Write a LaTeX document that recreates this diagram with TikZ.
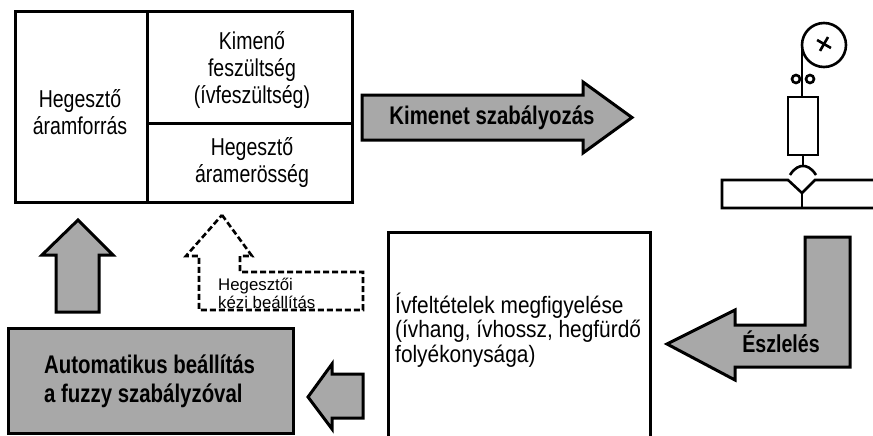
\documentclass[tikz,border=0pt]{standalone}
\usepackage{fontspec}
\setmainfont{Liberation Sans}[FakeStretch=0.8]
\newfontfamily\widefont{Liberation Sans}[FakeStretch=0.88]
\newfontfamily\plainfont{Liberation Sans}
\usepackage{xcolor}
\usetikzlibrary{positioning}
\definecolor{arrowgray}{RGB}{168,168,168}

\begin{document}
\begin{tikzpicture}[
    x=1pt, y=-1pt,
    frame/.style={draw, line width=3pt},
    blockarrow/.style={draw, line width=3pt, fill=arrowgray},
    handarrow/.style={draw, line width=2.6pt, dash pattern=on 6pt off 3pt},
    torch/.style={draw, line width=2.6pt},
    label/.style={inner sep=0pt, align=center, font=\fontsize{24.4}{27}\selectfont},
    boldlabel/.style={inner sep=0pt, font=\fontsize{25.5}{29}\selectfont\bfseries}
]
    \useasboundingbox (0,0) rectangle (873,436);

    % Power source block
    \draw[frame] (15,12) rectangle (352,202);
    \draw[frame] (147,12) -- (147,202);
    \draw[frame] (147,123) -- (352,123);
    \node[label, anchor=base] (source) at (80,134) {Hegesztő\\áramforrás};
    \node[label, anchor=base] (voltage) at (252,103) {Kimenő\\feszültség\\(ívfeszültség)};
    \node[label, anchor=base] (current) at (252,182) {Hegesztő\\áramerösség};

    % Output control arrow
    \draw[blockarrow] (362,95) -- (583,95) -- (583,82) -- (632,117.5)
        -- (583,153) -- (583,140) -- (362,140) -- cycle;
    \node[boldlabel, anchor=base] (output) at (492,124) {Kimenet szabályozás};

    % Torch and workpiece
    \draw[torch] (824,45) circle (22);
    \draw[torch] (824,44) ++(30:8) -- ++(210:16);
    \draw[torch] (824,44) ++(120:8) -- ++(300:16);
    \draw[torch] (802,45) -- (802,97);
    \draw[torch] (796,79) circle (4);
    \draw[torch] (810,79) circle (4);
    \draw[torch] (788,97) rectangle (818,155);
    \draw[torch] (803,155) -- (803,166);
    \draw[torch] (790,175) .. controls (795,167) and (800,166) .. (803,166)
        .. controls (806,166) and (811,167) .. (816,175);
    \draw[torch] (873,180) -- (815,180) -- (802,193) -- (788,180) -- (722,180)
        -- (722,208) -- (873,208);
    \draw[torch] (802,193) -- (802,208);

    % Sensing arrow
    \draw[blockarrow] (850,237) -- (805,237) -- (805,325) -- (735,325) -- (735,310)
        -- (667,344) -- (735,380) -- (735,367) -- (850,367) -- cycle;
    \node[boldlabel, anchor=base, font=\fontsize{24.5}{27}\selectfont\bfseries] (sense) at (781,352) {Észlelés};

    % Arc observation block
    \draw[frame] (388,440) -- (388,232) -- (650,232) -- (650,440);
    \node[anchor=base west, align=left, inner sep=0pt, font=\widefont\fontsize{23.7}{24.5}\selectfont] (observe) at (395,362)
        {Ívfeltételek megfigyelése\\(ívhang, ívhossz, hegfürdő\\folyékonysága)};

    % Fuzzy setting block
    \draw[blockarrow] (363,374) -- (332,374) -- (332,364) -- (308,397)
        -- (332,429) -- (332,418) -- (363,418) -- cycle;
    \draw[blockarrow] (8,328) rectangle (293,433);
    \node[boldlabel, anchor=base west, align=left] (fuzzy) at (44,402)
        {Automatikus beállítás\\a fuzzy szabályzóval};
    \draw[blockarrow] (78,220) -- (113,255) -- (99,255) -- (99,312)
        -- (56,312) -- (56,255) -- (42,255) -- cycle;

    % Manual setting
    \draw[handarrow] (222,215) -- (252,256) -- (240,256) -- (240,272) -- (363,272)
        -- (363,310) -- (199,310) -- (199,256) -- (186,256) -- cycle;
    \node[anchor=base west, align=left, inner sep=0pt, font=\plainfont\fontsize{16.8}{17.7}\selectfont] (manual) at (218,308)
        {Hegesztői\\kézi beállítás};
\end{tikzpicture}
\end{document}
